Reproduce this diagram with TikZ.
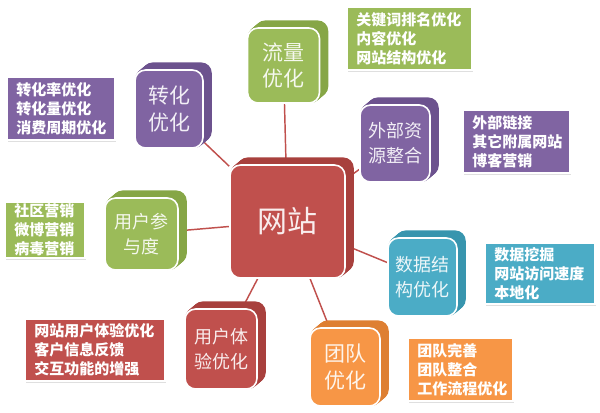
\documentclass[tikz,border=0pt]{standalone}
\usepackage{fontspec}
\setmainfont{Noto Sans CJK SC}
\usetikzlibrary{shadows}
\pgfdeclarelayer{bg}
\pgfdeclarelayer{mid}
\pgfsetlayers{bg,mid,main}
\definecolor{gn}{HTML}{9BBB59}
\definecolor{gnd}{HTML}{86A646}
\definecolor{pu}{HTML}{8064A2}
\definecolor{pud}{HTML}{6C528E}
\definecolor{rd}{HTML}{C0504D}
\definecolor{rdd}{HTML}{A8403D}
\definecolor{bl}{HTML}{4BACC6}
\definecolor{bld}{HTML}{3895AE}
\definecolor{og}{HTML}{F79646}
\definecolor{ogd}{HTML}{DE7F32}
\definecolor{linkc}{HTML}{C0504D}
\tikzset{
  face/.style={rounded corners=8pt, draw=white, line width=1.2pt, align=center, inner sep=0pt},
  tboxs/.style={draw=white, line width=1.6pt, text=white, align=left, inner xsep=7pt, inner ysep=0pt,
    font=\fontsize{11.25pt}{14.4pt}\selectfont\bfseries,
    drop shadow={shadow xshift=0.8pt, shadow yshift=-1.2pt, opacity=0.25, fill=gray}},
  link/.style={draw=linkc, line width=1.1pt},
  twoc/.style={font=\fontsize{15.75pt}{20pt}\selectfont},
  threec/.style={font=\fontsize{13.5pt}{18.75pt}\selectfont}
}
% name, x, y, w, h, front colour, back colour, style, text
\newcommand\cubebox[9]{%
  \node[face, fill=#6, text=white!90!#6, #8, minimum width=#4*0.75pt, minimum height=#5*0.75pt] (#1) at (#2,#3) {#9};
  \begin{pgfonlayer}{mid}
    \foreach \k in {1,...,8}{
      \fill[#7, rounded corners=8pt] ([shift={(\k,-\k*0.85)}]#1.south west) rectangle ([shift={(\k,-\k*0.85)}]#1.north east);
    }
  \end{pgfonlayer}
}
% name, x, y, w, h, colour, text
\newcommand\listbox[7]{%
  \node[tboxs, fill=#6, text width=#4*0.75pt-14pt, minimum height=#5*0.75pt] (#1) at (#2,#3) {#7};
}
\begin{document}
\begin{tikzpicture}[x=0.75pt, y=-0.75pt]
\useasboundingbox (0,0) rectangle (600,412);
% central box
\cubebox{W}{287.5}{221.5}{115}{113}{rd}{rdd}{font=\fontsize{22.5pt}{27pt}\selectfont}{网站}
% satellites
\cubebox{L}{283.5}{65.5}{72}{75}{gn}{gnd}{twoc}{流量\\优化}
\cubebox{Z}{169}{109}{68}{78}{pu}{pud}{twoc}{转化\\优化}
\cubebox{E}{395}{143.5}{70}{77}{pu}{pud}{threec}{外部资\\源整合}
\cubebox{U}{141.5}{234}{73}{72}{gn}{gnd}{threec}{用户参\\与度}
\cubebox{X}{221}{349}{72}{80}{rd}{rdd}{threec}{用户体\\验优化}
\cubebox{D}{422.5}{277}{69}{78}{bl}{bld}{threec}{数据结\\构优化}
\cubebox{T}{345}{367}{70}{78}{og}{ogd}{twoc}{团队\\优化}
% list boxes
\listbox{t1}{61}{108.5}{108}{63}{pu}{转化率优化\\转化量优化\\消费周期优化}
\listbox{t2}{409.5}{38.5}{125}{63}{gn}{关键词排名优化\\内容优化\\网站结构优化}
\listbox{t3}{516.5}{141.5}{107}{63}{pu}{外部链接\\其它附属网站\\博客营销}
\listbox{t4}{45}{230}{80}{56}{gn}{社区营销\\微博营销\\病毒营销}
\listbox{t5}{95}{350}{140}{62}{rd}{网站用户体验优化\\客户信息反馈\\交互功能的增强}
\listbox{t6}{540}{273.5}{110}{61}{bl}{数据挖掘\\网站访问速度\\本地化}
\listbox{t7}{460.5}{369.5}{105}{63}{og}{团队完善\\团队整合\\工作流程优化}
% connectors
\begin{pgfonlayer}{bg}
  \draw[link] (W) -- (L);
  \draw[link] (W) -- (Z);
  \draw[link] (W) -- (E);
  \draw[link] (W) -- (U);
  \draw[link] (W) -- (X);
  \draw[link] (W) -- (D);
  \draw[link] (W) -- (T);
\end{pgfonlayer}
\end{tikzpicture}
\end{document}
